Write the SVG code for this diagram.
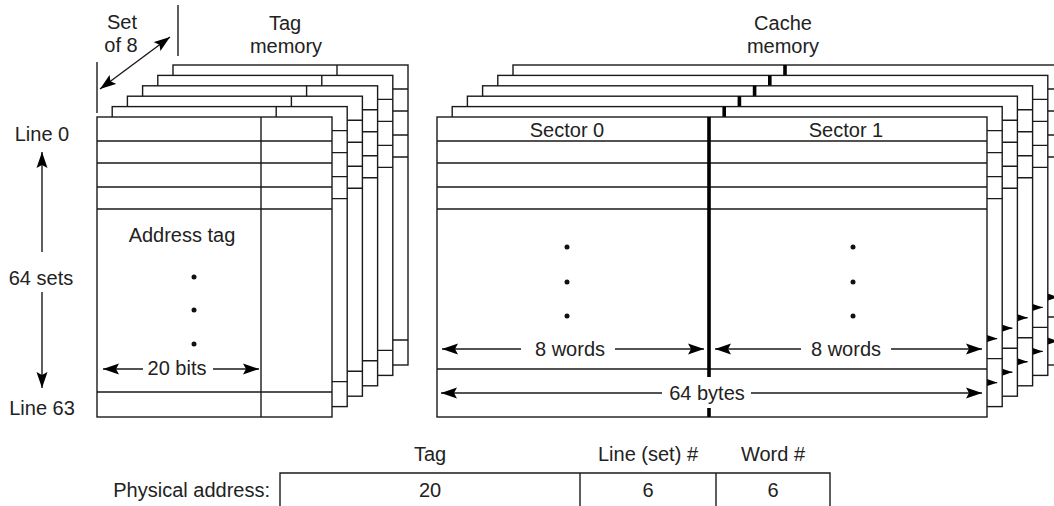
<svg xmlns="http://www.w3.org/2000/svg" width="1054" height="506" viewBox="0 0 1054 506">
<style>
text{font-family:"Liberation Sans",Arial,sans-serif;font-size:20px;fill:#222}
.m{text-anchor:middle}
.e{text-anchor:end}
.card{fill:#fff;stroke:#1a1a1a;stroke-width:1.4}
.ln{fill:none;stroke:#1a1a1a;stroke-width:1.4}
.thick{fill:none;stroke:#000;stroke-width:3.6}
.as{fill:none;stroke:#1a1a1a;stroke-width:1.4;marker-start:url(#ah)}
.ae{fill:none;stroke:#1a1a1a;stroke-width:1.4;marker-end:url(#ah)}
.ab{fill:none;stroke:#1a1a1a;stroke-width:1.4;marker-start:url(#ah);marker-end:url(#ah)}
.dot{fill:#111}
</style>
<defs>
<marker id="ah" viewBox="0 0 16 12" refX="16" refY="6" markerWidth="16" markerHeight="12" markerUnits="userSpaceOnUse" orient="auto-start-reverse"><path d="M0,0.5 L16,6 L0,11.5 L3,6 Z" fill="#000"/></marker>
<g id="tagCard">
<rect x="97" y="117" width="235" height="300" class="card"/>
<path d="M97 141H332M97 163H332M97 187H332M97 209H332M97 392H332M261 117V417" class="ln"/>
</g>
<g id="cacheCard">
<rect x="437" y="117" width="550" height="300" class="card"/>
<path d="M437 141H987M437 163H987M437 187H987M437 209H987M437 369H987" class="ln"/>
<path d="M709 117V377M709 408V417" class="thick"/>
<path d="M442 349H521" class="as"/>
<path d="M615 349H704" class="ae"/>
<path d="M715 349H801" class="as"/>
<path d="M891 349H982" class="ae"/>
<path d="M441 393H662" class="as"/>
<path d="M751 393H982" class="ae"/>
</g>
</defs>

<g id="tag-memory">
<use href="#tagCard" transform="translate(76,-52)"/>
<use href="#tagCard" transform="translate(60.8,-41.6)"/>
<use href="#tagCard" transform="translate(45.6,-31.2)"/>
<use href="#tagCard" transform="translate(30.4,-20.8)"/>
<use href="#tagCard" transform="translate(15.2,-10.4)"/>
<use href="#tagCard"/>
<text x="182" y="242" class="m">Address tag</text>
<circle cx="194" cy="277" r="2.5" class="dot"/>
<circle cx="194" cy="310" r="2.5" class="dot"/>
<circle cx="194" cy="344" r="2.5" class="dot"/>
<path d="M103 369H143" class="as"/>
<path d="M213 369H259" class="ae"/>
<text x="177" y="375" class="m">20 bits</text>
</g>

<g id="cache-memory">
<use href="#cacheCard" transform="translate(76,-52)"/>
<use href="#cacheCard" transform="translate(60.8,-41.6)"/>
<use href="#cacheCard" transform="translate(45.6,-31.2)"/>
<use href="#cacheCard" transform="translate(30.4,-20.8)"/>
<use href="#cacheCard" transform="translate(15.2,-10.4)"/>
<use href="#cacheCard"/>
<text x="567" y="137" class="m">Sector 0</text>
<text x="846" y="137" class="m">Sector 1</text>
<circle cx="567" cy="247" r="2.5" class="dot"/>
<circle cx="567" cy="282" r="2.5" class="dot"/>
<circle cx="567" cy="316" r="2.5" class="dot"/>
<circle cx="853" cy="247" r="2.5" class="dot"/>
<circle cx="853" cy="282" r="2.5" class="dot"/>
<circle cx="853" cy="316" r="2.5" class="dot"/>
<text x="570" y="356" class="m">8 words</text>
<text x="846" y="356" class="m">8 words</text>
<text x="707" y="400" class="m">64 bytes</text>
</g>

<g id="labels">
<text x="122" y="29" class="m">Set</text>
<text x="121" y="52" class="m">of 8</text>
<text x="285" y="30" class="m">Tag</text>
<text x="286" y="53" class="m">memory</text>
<text x="783" y="30" class="m">Cache</text>
<text x="783" y="53" class="m">memory</text>
<text x="42" y="141" class="m">Line 0</text>
<text x="41" y="285" class="m">64 sets</text>
<text x="42" y="415" class="m">Line 63</text>
</g>

<g id="physical-address">
<path d="M280 506V473H830V506M580 473V506M716 473V506" class="ln"/>
<text x="430" y="461" class="m">Tag</text>
<text x="648" y="461" class="m">Line (set) #</text>
<text x="773" y="461" class="m">Word #</text>
<text x="270" y="497" class="e">Physical address:</text>
<text x="430" y="497" class="m">20</text>
<text x="648" y="497" class="m">6</text>
<text x="773" y="497" class="m">6</text>
</g>

<g id="connectors">
<path d="M97 62V113" class="ln"/>
<path d="M178 5V56" class="ln"/>
<path d="M100 89L170 37" class="ab"/>
<path d="M42 252V152" class="ae"/>
<path d="M42 292V388" class="ae"/>
</g>
</svg>
